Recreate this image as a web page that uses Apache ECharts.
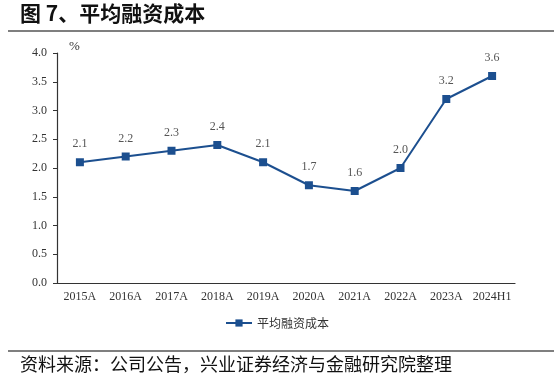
<!DOCTYPE html>
<html><head><meta charset="utf-8">
<script src="https://cdn.jsdelivr.net/npm/echarts@6/dist/echarts.min.js"></script>
<style>html,body{margin:0;padding:0;background:#fff;}#c{width:554px;height:381px;}</style>
</head><body><div id="c"></div>
<script>
const categories = ['2015A','2016A','2017A','2018A','2019A','2020A','2021A','2022A','2023A','2024H1'];
const costValues = [2.1, 2.2, 2.3, 2.4, 2.1, 1.7, 1.6, 2.0, 3.2, 3.6];
const seriesName = '平均融资成本';
const titleText = '图 7、平均融资成本';
const sourceText = '资料来源：公司公告，兴业证券经济与金融研究院整理';
const unitText = '%';

const chart = echarts.init(document.getElementById('c'));
const serif = '"Liberation Serif","DejaVu Serif",serif';
chart.setOption({
  backgroundColor: '#fff',
  animation: false,
  graphic: [
    {type:'text', left: 20, top: 3, style:{text: titleText, font:'bold 21px "Noto Sans CJK SC"', fill:'#111'}},
    {type:'line', shape:{x1:8,y1:31,x2:554,y2:31}, style:{stroke:'#555', lineWidth:1.5}},
    {type:'line', shape:{x1:8,y1:351,x2:554,y2:351}, style:{stroke:'#555', lineWidth:1.5}},
    {type:'text', left: 20, top: 355, style:{text: sourceText, font:'18px "Noto Sans CJK SC"', fill:'#111'}},
    {type:'text', left: 69, top: 40, style:{text: unitText, font:'13px ' + serif, fill:'#333'}}
  ],
  grid: {left: 57, right: 39, top: 53, bottom: 98},
  legend: {
    data: [seriesName], bottom: 47, left: 'center',
    itemWidth: 26, itemHeight: 9,
    textStyle: {fontFamily: '"Noto Sans CJK SC"', fontSize: 12, color: '#333'}
  },
  xAxis: {
    type: 'category', data: categories, boundaryGap: true,
    axisLine: {lineStyle: {color: '#333', width: 1.2}},
    axisTick: {inside: true, length: 5, lineStyle: {color: '#333'}},
    axisLabel: {fontFamily: serif, fontSize: 12, color: '#333', margin: 8, interval: 0}
  },
  yAxis: {
    type: 'value', min: 0, max: 4, interval: 0.5,
    axisLine: {show: true, lineStyle: {color: '#333', width: 1.2}},
    axisTick: {show: true, length: 4, lineStyle: {color: '#333'}},
    splitLine: {show: false},
    axisLabel: {fontFamily: serif, fontSize: 12, color: '#333', formatter: v => v.toFixed(1), margin: 10}
  },
  series: [{
    name: seriesName, type: 'line', data: costValues,
    symbol: 'rect', symbolSize: 8,
    lineStyle: {color: '#1c4f8f', width: 2},
    itemStyle: {color: '#1c4f8f'},
    label: {show: true, position: 'top', distance: 8, formatter: p => p.value.toFixed(1),
      fontFamily: serif, fontSize: 12, color: '#555'}
  }]
});
</script></body></html>
